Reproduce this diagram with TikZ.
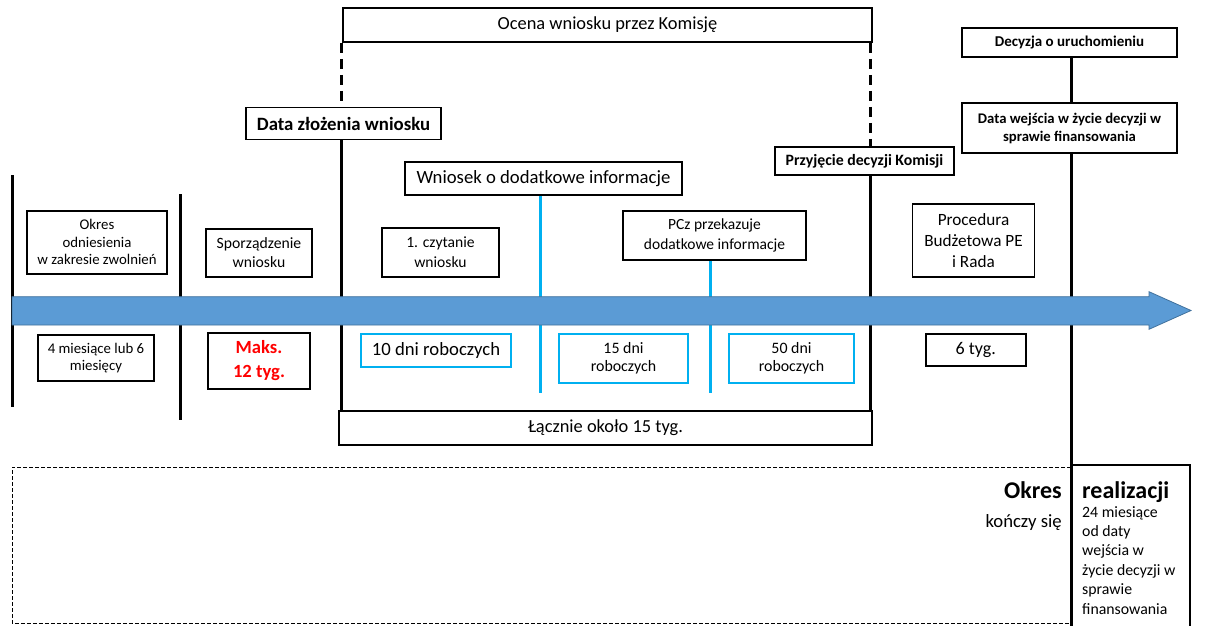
\documentclass[tikz,border=0pt]{standalone}
\usepackage{fontspec}
\setmainfont{Carlito}
\definecolor{arrowfill}{HTML}{5B9BD5}
\definecolor{arrowline}{HTML}{41719C}
\definecolor{cyanline}{HTML}{00B0F0}
\definecolor{redtext}{HTML}{FF0000}
\newcommand{\fs}[2]{\fontsize{#1}{#2}\selectfont}
\begin{document}
\begin{tikzpicture}[x=1pt,y=-1pt,
  box/.style={draw=black,line width=1.6pt,inner sep=0pt,align=center,fill=white},
  cbox/.style={draw=cyanline,line width=1.6pt,inner sep=0pt,align=center,fill=white},
  vline/.style={line width=3pt,black},
  dline/.style={line width=3pt,black,dash pattern=on 10pt off 6pt},
  cline/.style={line width=3pt,cyanline}]
\useasboundingbox (0,0) rectangle (1207,626);
% bottom dashed frame and realization box
\draw[line width=1pt,dash pattern=on 4pt off 2pt] (1071,467) -- (12,467) -- (12,623) -- (1071,623);
\draw[line width=1.6pt] (1071,465) -- (1190,465) -- (1190,626);
% nodes
\node[box,minimum width=529pt,minimum height=34pt,font=\fs{18.4}{22}] (ocena) at (607.5,25) {Ocena wniosku przez Komisję};
\node[box,minimum width=195pt,minimum height=32pt,font=\fs{18.8}{22}\bfseries] (data) at (343.5,123.5) {Data złożenia wniosku};
\node[box,minimum width=277pt,minimum height=33pt,font=\fs{18.7}{22}] (wniosek) at (543.5,178.5) {Wniosek o dodatkowe informacje};
\node[box,minimum width=179pt,minimum height=28pt,font=\fs{15.8}{19}\bfseries] (przyj) at (864.5,161) {Przyjęcie decyzji Komisji};
\node[box,minimum width=215pt,minimum height=29pt,font=\fs{15}{18}\bfseries] (decyzja) at (1069.5,42.5) {Decyzja o uruchomieniu};
\node[box,minimum width=215pt,minimum height=50pt,font=\fs{14.7}{18}\bfseries] (datawej) at (1069.5,128) {Data wejścia w życie decyzji w\\sprawie finansowania};
\node[box,minimum width=140pt,minimum height=63pt,font=\fs{14.8}{17.5}] (okres) at (97,242.3) {Okres\\odniesienia\\w zakresie zwolnień};
\node[box,minimum width=106pt,minimum height=48pt,font=\fs{15.7}{19}] (sporz) at (259,253) {Sporządzenie\\wniosku};
\node[box,minimum width=117pt,minimum height=49pt,font=\fs{15.6}{20}] (czyt) at (440.5,252.5) {1. czytanie\\wniosku};
\node[box,minimum width=183pt,minimum height=49pt,font=\fs{15.5}{20}] (pcz) at (714.5,235.5) {PCz przekazuje\\dodatkowe informacje};
\node[box,minimum width=122pt,minimum height=73pt,font=\fs{17.2}{21}] (proc) at (973.5,240.7) {Procedura\\Budżetowa PE\\i Rada};
\node[box,minimum width=533pt,minimum height=34pt,font=\fs{18.4}{22}] (lacznie) at (605.5,428) {Łącznie około 15 tyg.};
% coordinates
\coordinate (l1t) at (12,175);
\coordinate (l1b) at (12,407);
\coordinate (l2t) at (180,194);
\coordinate (l2b) at (180,420);
\coordinate (l3) at (341,0);
\coordinate (l4) at (870,0);
\coordinate (l5b) at (1071,626);
\coordinate (c1b) at (540,393);
\coordinate (c2b) at (710.5,393);
% vertical lines
\draw[vline] (l1t) -- (l1b);
\draw[vline] (l2t) -- (l2b);
\draw[dline] (ocena.south -| l3) -- (data.north -| l3);
\draw[vline] (data.south -| l3) -- (lacznie.north -| l3);
\draw[dline] (ocena.south -| l4) -- (przyj.north -| l4);
\draw[vline] (przyj.south -| l4) -- (lacznie.north -| l4);
\draw[vline] (decyzja.south -| l5b) -- (datawej.north -| l5b);
\draw[vline] (datawej.south -| l5b) -- (l5b);
\draw[cline] (wniosek.south -| c1b) -- (c1b);
\draw[cline] (pcz.south -| c2b) -- (c2b);
% arrow
\draw[fill=arrowfill,draw=arrowline,line width=0.8pt] (12,296.7) -- (1149,296.7) -- (1149,291.7) -- (1191,310.5) -- (1149,329.3) -- (1149,325) -- (12,325) -- cycle;
% lower boxes
\node[box,minimum width=116pt,minimum height=46pt,font=\fs{14.8}{16.7}] (m4) at (96,358) {4 miesiące lub 6\\miesięcy};
\node[box,minimum width=102pt,minimum height=56pt,text=redtext,font=\fs{18.6}{24}\bfseries] (maks) at (259,361) {Maks.\\12 tyg.};
\node[cbox,minimum width=150pt,minimum height=33pt,font=\fs{18.7}{22}] (d10) at (436,350.5) {10 dni roboczych};
\node[cbox,minimum width=129pt,minimum height=49pt,font=\fs{15.9}{17.7}] (d15) at (623.5,358.5) {15 dni\\roboczych};
\node[cbox,minimum width=125pt,minimum height=49pt,font=\fs{15.9}{17.7}] (d50) at (791.5,358.5) {50 dni\\roboczych};
\node[box,minimum width=100pt,minimum height=32pt,font=\fs{18}{21}] (t6) at (975.7,350.2) {6 tyg.};
% bottom texts
\node[anchor=base east,inner sep=0pt,font=\fs{24}{28}\bfseries] (okresb) at (1062,498) {Okres};
\node[anchor=base east,inner sep=0pt,font=\fs{18.7}{22}] (konczy) at (1062,527) {kończy się};
\node[anchor=base west,inner sep=0pt,font=\fs{24}{28}\bfseries] (realiz) at (1082,498) {realizacji};
\node[anchor=north west,inner sep=0pt,align=left,font=\fs{15.8}{19.4}] (realtxt) at (1082,506) {24 miesiące\\od daty\\wejścia w\\życie decyzji w\\sprawie\\finansowania};
\end{tikzpicture}
\end{document}
